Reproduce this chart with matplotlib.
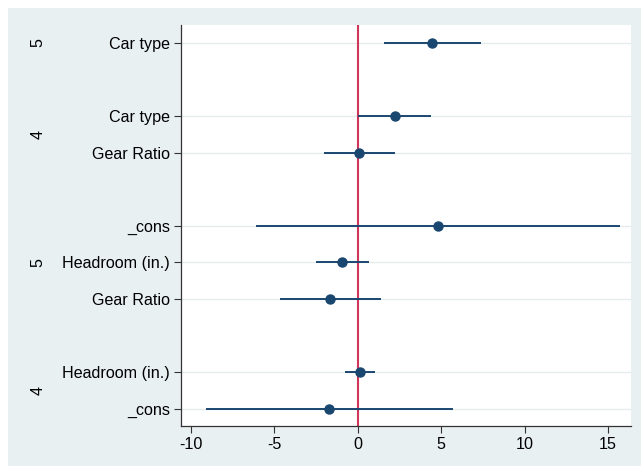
import matplotlib
matplotlib.use("Agg")
import matplotlib.pyplot as plt
from matplotlib.patches import Rectangle

plt.rcParams['font.family'] = ['Liberation Sans', 'DejaVu Sans']

# Coefficient labels, top to bottom
labels = ["Car type", "Car type", "Gear Ratio", "_cons", "Headroom (in.)",
          "Gear Ratio", "Headroom (in.)", "_cons"]
positions = [11, 9, 8, 6, 5, 4, 2, 1]
estimates = [4.43, 2.20, 0.08, 4.79, -0.94, -1.68, 0.12, -1.72]
ci_low = [1.56, 0.02, -2.04, -6.13, -2.50, -4.65, -0.78, -9.12]
ci_high = [7.37, 4.37, 2.20, 15.69, 0.64, 1.36, 1.04, 5.69]

# Group headers (equation names) and their vertical positions
group_names = ["5", "4", "5", "4"]
group_pos = [11, 8.5, 5, 1.5]

xticks = [-10, -5, 0, 5, 10, 15]

navy = "#1a476f"
red = "#d0365a"
bg = "#e9f0f2"
grid = "#e6eced"

fig = plt.figure(figsize=(6.41, 4.66), dpi=100)
fig.patch.set_facecolor("white")
fig.patches.append(Rectangle((8 / 641, 0), 1 - 8 / 641, 1 - 8 / 466,
                             transform=fig.transFigure, facecolor=bg,
                             edgecolor="none", zorder=-10))

ax = fig.add_axes([181 / 641, 1 - 426 / 466, 450 / 641, 401 / 466])
ax.set_facecolor("white")

for p in positions:
    ax.axhline(p, color=grid, lw=1.0, zorder=0)

ax.axvline(0, color=red, lw=1.5, zorder=1)

ax.hlines(positions, ci_low, ci_high, color=navy, lw=1.4, zorder=2)
ax.plot(estimates, positions, "o", color=navy, ms=6.5, zorder=3)

ax.set_xlim(-10.6, 16.37)
ax.set_ylim(0.53, 11.49)
ax.set_xticks(xticks)
ax.set_xticklabels([str(t) for t in xticks])
ax.set_yticks(positions)
ax.set_yticklabels(labels)
ax.tick_params(axis="both", labelsize=11.6, length=5, width=0.8,
               color="#333333", pad=3)

for side in ("top", "right"):
    ax.spines[side].set_visible(False)
for side in ("left", "bottom"):
    ax.spines[side].set_color("#333333")
    ax.spines[side].set_linewidth(0.9)

for name, gp in zip(group_names, group_pos):
    y_fig = ax.transData.transform((0, gp))[1]
    fig.text(38 / 641, y_fig / fig.bbox.height, name, rotation=90,
             ha="center", va="center", fontsize=11.6)

fig.savefig("out.png", dpi=100, facecolor=fig.get_facecolor())
